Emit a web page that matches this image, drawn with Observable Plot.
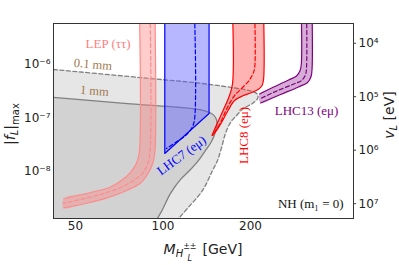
<!DOCTYPE html>
<html><head><meta charset="utf-8">
<script src="https://cdn.jsdelivr.net/npm/d3@7"></script>
<script src="https://cdn.jsdelivr.net/npm/@observablehq/plot@0.6"></script>
<style>body{margin:0;background:#fff}</style>
</head><body><div id="chart"></div>
<script>
// ---- tick labels ----
const xTicks = [50, 100, 200];            // M [GeV]
const yTicks = [1e-8, 1e-7, 1e-6];        // |f_L|max
const vTicks = [1e4, 1e5, 1e6, 1e7];      // v_L [eV]
const vTimesF = 0.025;                    // v_L * |f_L|max  [eV]
const xMax = 452;

// ---- curves: [M (GeV), |f_L|max] ----
const mm01 = [[42.0,8.06e-7],[94.2,5.36e-7],[133.7,4.47e-7],[174.8,3.67e-7],[203.2,3.13e-7],[211.4,2.75e-7],[211.4,2.31e-7],[203.2,1.87e-7],[189.2,1.51e-7],[179.0,1.11e-7],[170.7,8.24e-8],[164.0,5.13e-8],[159.0,2.81e-8],[154.0,1.61e-8],[148.0,1.04e-8],[136.7,4.41e-9],[122.4,2.15e-9],[113.1,1.32e-9],[107.8,9.8e-10]];
const mm1 = [[42.0,2.42e-7],[77.3,1.84e-7],[124.4,1.51e-7],[140.0,1.35e-7],[146.8,1.21e-7],[151.6,1.02e-7],[153.4,7.89e-8],[151.6,5.59e-8],[146.8,3.64e-8],[140.0,2.47e-8],[132.5,1.61e-8],[123.4,1.04e-8],[114.9,7.09e-9],[106.1,3.88e-9],[99.6,1.95e-9],[95.7,1.32e-9],[93.5,9.8e-10]];

const lepInner = [[83.0,1e-5],[83.0,2.47e-8],[81.7,1.61e-8],[79.2,1.14e-8],[74.9,8.06e-9],[66.0,5.13e-9],[56.3,4.05e-9],[45.5,3.09e-9]];
const lepOuter = [[93.8,1e-5],[93.8,2.47e-8],[92.4,1.47e-8],[89.2,9.58e-9],[83.7,6.10e-9],[74.3,4.32e-9],[63.4,3.13e-9],[54.1,2.52e-9],[45.5,2.08e-9]];
const lepMid   = [[90.2,1e-5],[90.2,2.26e-8],[88.4,1.35e-8],[85.0,9.18e-9],[79.2,6.79e-9],[70.3,4.81e-9],[60.9,3.72e-9],[52.0,3.00e-9],[45.5,2.52e-9]];

const lhc7Edge = [[101.4,1e-5],[101.4,2.17e-8],[144.0,1.21e-7],[144.0,1e-5]];
const lhc7Mid  = [[128.3,1e-5],[128.3,9.38e-8],[125.3,6.36e-8],[118.6,4.51e-8],[110.4,3.48e-8],[102.8,2.69e-8]];

const lhc8Left  = [[173.4,1e-5],[173.4,4.41e-7],[169.3,2.63e-7],[160.9,1.38e-7],[154.6,8.60e-8],[149.8,5.84e-8],[147.4,4.71e-8]];
const lhc8Right = [[221.7,1e-5],[221.7,5.24e-7],[219.1,4.05e-7],[212.3,3.41e-7],[200.0,2.93e-7],[189.2,2.63e-7],[176.2,2.12e-7],[167.4,1.38e-7],[159.6,8.60e-8],[152.8,5.84e-8],[148.0,4.71e-8]];
const lhc8Mid   = [[206.5,1e-5],[206.5,8.42e-7],[203.2,6.50e-7],[197.7,5.02e-7],[187.7,3.72e-7],[176.2,2.63e-7],[169.3,1.87e-7],[164.0,1.32e-7],[157.1,7.89e-8],[151.0,5.59e-8],[148.0,4.71e-8]];

const lhc13Upper = [[298.9,1e-5],[298.9,1e-6],[296.1,7.73e-7],[287.9,6.10e-7],[270.3,5.13e-7],[234.4,3.56e-7],[214.8,2.81e-7]];
const lhc13Lower = [[325.6,1e-5],[325.6,8.42e-7],[323.0,5.97e-7],[314.2,4.61e-7],[292.5,3.80e-7],[253.7,2.75e-7],[216.5,1.91e-7]];
const lhc13Mid   = [[311.7,1e-5],[311.7,9.18e-7],[309.2,6.50e-7],[299.6,5.02e-7],[279.0,4.23e-7],[243.8,3.13e-7],[216.5,2.31e-7]];

// ---- annotation anchors [M, f] ----
const annLEP   = [[64.7, 2.47e-6]];
const ann01    = [[57.4, 1.0e-6]];
const ann1     = [[58.1, 3.2e-7]];
const annLHC7  = [[115.8, 1.99e-8]];
const annLHC8  = [[189.2, 4.71e-8]];
const annLHC13 = [[311.7, 1.38e-7]];
const annNH    = [[417.8, 2.52e-9]];

// polygons
const band = (a, b) => [...a, ...b.slice().reverse()];
const polyMM01 = [...mm01, [40, 9.8e-10], [40, 8.1e-7]];
const polyMM1  = [...mm1, [40, 9.8e-10], [40, 2.45e-7]];

const supMap = {"0":"⁰","1":"¹","2":"²","3":"³","4":"⁴","5":"⁵","6":"⁶","7":"⁷","8":"⁸","9":"⁹","-":"⁻"};
const sup = n => String(n).split("").map(c => supMap[c] || c).join("");
const pow10 = d => "10" + sup(Math.round(Math.log10(d)));

const serif = "Liberation Serif, Times New Roman, serif";
const cr = "catmull-rom";

const chart = Plot.plot({
  width: 399, height: 265,
  marginLeft: 53, marginRight: 46, marginTop: 23, marginBottom: 47,
  style: {fontFamily: "DejaVu Sans", fontSize: "12px", color: "#222", background: "#fff"},
  x: {type: "log", domain: [42, xMax], axis: null},
  y: {type: "log", domain: [1.32e-9, 5.84e-6], axis: null},
  marks: [
    Plot.line(polyMM01, {fill: "#e6e6e6", stroke: "none", curve: cr, clip: true}),
    Plot.line(polyMM1, {fill: "#d2d2d2", stroke: "none", curve: cr, clip: true}),
    Plot.line(mm01, {stroke: "#808080", strokeWidth: 1.3, strokeDasharray: "4,2.5", curve: cr, clip: true}),
    Plot.line(mm1, {stroke: "#808080", strokeWidth: 1.3, curve: cr, clip: true}),

    Plot.line(band(lepInner, lepOuter), {fill: "#ff8080", fillOpacity: 0.4, stroke: "none", curve: cr, clip: true}),
    Plot.line(lepInner, {stroke: "#ff8a8a", strokeWidth: 1.2, curve: cr, clip: true}),
    Plot.line(lepOuter, {stroke: "#ff8a8a", strokeWidth: 1.2, curve: cr, clip: true}),
    Plot.line(lepMid, {stroke: "#ff8a8a", strokeWidth: 1.2, strokeDasharray: "4,2.5", curve: cr, clip: true}),

    Plot.line(lhc7Edge, {fill: "#6060ff", fillOpacity: 0.45, stroke: "none", clip: true}),
    Plot.line(lhc7Edge, {stroke: "#0000ff", strokeWidth: 1.2, clip: true}),
    Plot.line(lhc7Mid, {stroke: "#0000ff", strokeWidth: 1.2, strokeDasharray: "4,2.5", curve: cr, clip: true}),

    Plot.line(band(lhc8Left, lhc8Right), {fill: "#ff4040", fillOpacity: 0.4, stroke: "none", curve: cr, clip: true}),
    Plot.line(lhc8Left, {stroke: "#ff0000", strokeWidth: 1.2, curve: cr, clip: true}),
    Plot.line(lhc8Right, {stroke: "#ff0000", strokeWidth: 1.2, curve: cr, clip: true}),
    Plot.line(lhc8Mid, {stroke: "#ff0000", strokeWidth: 1.2, strokeDasharray: "4,2.5", curve: cr, clip: true}),

    Plot.line(band(lhc13Upper, lhc13Lower), {fill: "#993399", fillOpacity: 0.4, stroke: "none", curve: cr, clip: true}),
    Plot.line(lhc13Upper, {stroke: "#800080", strokeWidth: 1.2, curve: cr, clip: true}),
    Plot.line(lhc13Lower, {stroke: "#800080", strokeWidth: 1.2, curve: cr, clip: true}),
    Plot.line(lhc13Mid, {stroke: "#800080", strokeWidth: 1.2, strokeDasharray: "4,2.5", curve: cr, clip: true}),

    Plot.text(annLEP, {text: () => "LEP (ττ)", fill: "#ff8080", fontFamily: serif, fontSize: 13}),
    Plot.text(ann01, {text: () => "0.1 mm", fill: "#a0794c", fontFamily: serif, fontSize: 12.5, rotate: 5}),
    Plot.text(ann1, {text: () => "1 mm", fill: "#a0794c", fontFamily: serif, fontSize: 12.5, rotate: 5}),
    Plot.text(annLHC7, {text: () => "LHC7 (eμ)", fill: "#0000ff", fontFamily: serif, fontSize: 13, rotate: -36}),
    Plot.text(annLHC8, {text: () => "LHC8 (eμ)", fill: "#ff0000", fontFamily: serif, fontSize: 13, rotate: -90}),
    Plot.text(annLHC13, {text: () => "LHC13 (eμ)", fill: "#800080", fontFamily: serif, fontSize: 13}),
    Plot.text(annNH, {text: () => "NH (m₁ = 0)", fill: "#111", fontFamily: serif, fontSize: 13, textAnchor: "end"}),

    // tick labels and ticks
    Plot.text(xTicks, {x: d => d, frameAnchor: "bottom", dy: 11, text: d => String(d), fill: "#222"}),
    Plot.text(yTicks, {y: d => d, frameAnchor: "left", dx: -3, textAnchor: "end", text: pow10, fill: "#222"}),
    Plot.text(vTicks, {y: v => vTimesF / v, frameAnchor: "right", dx: 5, textAnchor: "start", text: pow10, fill: "#222"}),
    Plot.ruleY(vTicks, {y: v => vTimesF / v, x1: () => xMax, x2: () => xMax * 1.025, stroke: "#444", strokeWidth: 1}),
    Plot.frame({stroke: "#333", strokeWidth: 1})
  ]
});

const svg = d3.select(chart);
const xt = svg.append("text").attr("x", 203).attr("y", 254).attr("text-anchor", "middle")
  .attr("font-family", "DejaVu Sans").attr("font-size", 14).attr("fill", "#222");
xt.append("tspan").attr("font-style", "italic").text("M");
xt.append("tspan").attr("font-style", "italic").attr("font-size", 10).attr("dy", 3).text("H");
xt.append("tspan").attr("font-size", 8).attr("dy", -8).text("±±");
xt.append("tspan").attr("font-style", "italic").attr("font-size", 8).attr("dx", -9).attr("dy", 12).text("L");
xt.append("tspan").attr("dy", -7).attr("dx", 6).text("\u00a0[GeV]");

const yl = svg.append("text").attr("transform", "translate(15,124) rotate(-90)").attr("text-anchor", "middle")
  .attr("font-family", "DejaVu Sans").attr("font-size", 14).attr("fill", "#222");
yl.append("tspan").text("|");
yl.append("tspan").attr("font-style", "italic").text("f");
yl.append("tspan").attr("font-style", "italic").attr("font-size", 10).attr("dy", 3).text("L");
yl.append("tspan").attr("dy", -3).text("|");
yl.append("tspan").attr("font-size", 10).attr("dy", 4).text("max");

const yr = svg.append("text").attr("transform", "translate(394,115) rotate(-90)").attr("text-anchor", "middle")
  .attr("font-family", "DejaVu Sans").attr("font-size", 14).attr("fill", "#222");
yr.append("tspan").attr("font-style", "italic").text("v");
yr.append("tspan").attr("font-style", "italic").attr("font-size", 10).attr("dy", 3).text("L");
yr.append("tspan").attr("dy", -3).text("\u00a0[eV]");

document.getElementById("chart").appendChild(chart);
</script></body></html>
